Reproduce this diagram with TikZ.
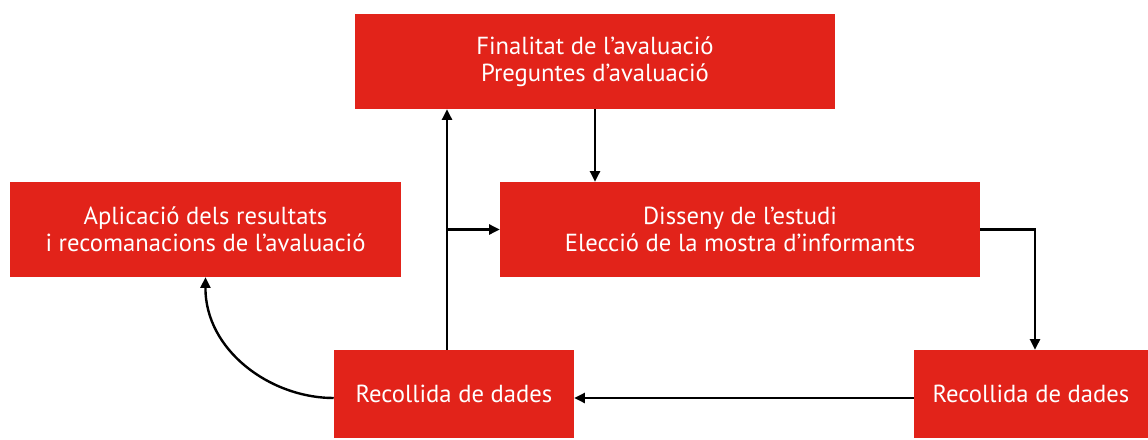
\documentclass[tikz,border=0pt]{standalone}
\usepackage{fontspec}
\setmainfont{PT Sans}
\usetikzlibrary{arrows.meta}
\definecolor{boxred}{HTML}{E2231A}
\begin{document}
\begin{tikzpicture}[x=0.75pt,y=-0.75pt,
  box/.style={fill=boxred,text=white,draw=none,inner sep=0pt,align=center,font=\fontsize{18.5}{20}\selectfont},
  conn/.style={line width=1.8pt,-{Triangle[length=8pt,width=7.5pt]}}]
\useasboundingbox (0,0) rectangle (1148,439);
\node[box,minimum width=360pt,minimum height=71.25pt] (top) at (595,61.5) {Finalitat de l’avaluació\\Preguntes d’avaluació};
\node[box,minimum width=293.25pt,minimum height=71.25pt] (apl) at (205.5,229.5) {Aplicació dels resultats\\i recomanacions de l’avaluació};
\node[box,minimum width=360pt,minimum height=71.25pt] (dis) at (740,229.5) {Disseny de l’estudi\\Elecció de la mostra d’informants};
\node[box,minimum width=180pt,minimum height=66pt] (rl) at (454,394) {Recollida de dades};
\node[box,minimum width=175.5pt,minimum height=66pt] (rr) at (1031,394) {Recollida de dades};
\coordinate (j) at (447,229.5);
\coordinate (c) at (1035,229.5);
\coordinate (h) at (0,398);
\draw[conn] (top.south) -- (top.south |- dis.north);
\draw[conn] (dis.east) -- (c) -- (c |- rr.north);
\draw[conn] (rr.west |- h) -- (rl.east |- h);
\draw[conn] (rl.north -| j) -- (top.south -| j);
\draw[conn] (j) -- (dis.west);
\draw[conn] (rl.west |- h) .. controls (270,398) and (205,350) .. (apl.south);
\end{tikzpicture}
\end{document}
